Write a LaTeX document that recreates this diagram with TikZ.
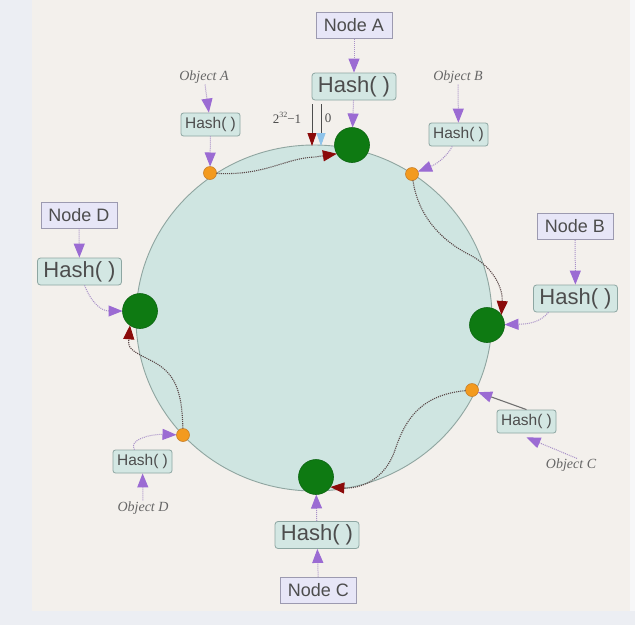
\documentclass[tikz,border=0pt]{standalone}
\usepackage{fontspec}
\setmainfont{Liberation Sans}
\newfontfamily\serifface{Liberation Serif}
\usetikzlibrary{arrows.meta}
\definecolor{bgout}{HTML}{ECEEF3}
\definecolor{bgin}{HTML}{F3F0EC}
\definecolor{bgstrip}{HTML}{F7F7F8}
\definecolor{ringfill}{HTML}{CFE5E1}
\definecolor{ringdraw}{HTML}{8FA5A0}
\definecolor{greenc}{HTML}{0E7A12}
\definecolor{greendraw}{HTML}{0B6410}
\definecolor{orangec}{HTML}{F39A1E}
\definecolor{orangedraw}{HTML}{C8802A}
\definecolor{nodefill}{HTML}{E7E6F7}
\definecolor{nodedraw}{HTML}{9C9AB0}
\definecolor{hashfill}{HTML}{D3E7E3}
\definecolor{hashdraw}{HTML}{8DA6A2}
\definecolor{textc}{HTML}{4D4D4D}
\definecolor{objc}{HTML}{666666}
\definecolor{purp}{HTML}{9B6BD3}
\definecolor{purpline}{HTML}{A890C8}
\definecolor{darkredc}{HTML}{8B0A0A}
\definecolor{curveline}{HTML}{5A4848}
\definecolor{bluetip}{HTML}{8EC3EA}
\begin{document}
\begin{tikzpicture}[x=1pt,y=-1pt,
  nodebox/.style={draw=nodedraw, fill=nodefill, line width=0.8pt, minimum width=76pt, minimum height=26pt, inner sep=0pt, font=\fontsize{18}{20}\selectfont, text=textc},
  hashbig/.style={draw=hashdraw, fill=hashfill, rounded corners=3pt, line width=0.8pt, minimum width=84pt, minimum height=27pt, inner sep=0pt, font=\fontsize{22}{24}\selectfont, text=textc},
  hashsmall/.style={draw=hashdraw, fill=hashfill, rounded corners=2.5pt, line width=0.8pt, minimum width=59pt, minimum height=23pt, inner sep=0pt, font=\fontsize{15.5}{17}\selectfont, text=textc},
  objlbl/.style={font=\serifface\itshape\fontsize{14}{16}\selectfont, text=objc, inner sep=1pt},
  greendot/.style={circle, fill=greenc, draw=greendraw, line width=0.6pt, minimum size=35pt, inner sep=0pt, outer sep=0pt},
  odot/.style={circle, fill=orangec, draw=orangedraw, line width=0.6pt, minimum size=13pt, inner sep=0pt, outer sep=0pt},
  parrow/.style={purpline, densely dotted, line width=1pt, -{Triangle[length=14pt,width=11pt,color=purp]}},
  rarrow/.style={curveline, densely dotted, line width=1.1pt, -{Triangle[length=14pt,width=11pt,color=darkredc]}}
]
\useasboundingbox (0,0) rectangle (635,625);
% background
\fill[bgout] (0,0) rectangle (635,625);
\fill[bgstrip] (630,0) rectangle (635,611);
\fill[bgin] (32,0) rectangle (630,611);
% ring
\draw[fill=ringfill, draw=ringdraw, line width=0.9pt] (314,318) ellipse [x radius=178, y radius=173];

% green server nodes
\node[greendot] (gA) at (352,145) {};
\node[greendot] (gB) at (487,325) {};
\node[greendot] (gC) at (316,477) {};
\node[greendot] (gD) at (140,311) {};
% orange object dots
\node[odot] (dA) at (210,173) {};
\node[odot] (dB) at (412,174) {};
\node[odot] (dC) at (472,390) {};
\node[odot] (dD) at (183,435) {};

% label boxes
\node[nodebox] (nA) at (354,25.5) {Node A};
\node[hashbig] (hA) at (354,86.5) {Hash( )};
\node[nodebox] (nD) at (79,215) {Node D};
\node[hashbig] (hD) at (79.5,271.5) {Hash( )};
\node[nodebox] (nB) at (575,226.5) {Node B};
\node[hashbig] (hB) at (575.5,298.5) {Hash( )};
\node[hashbig] (hC) at (317,535) {Hash( )};
\node[nodebox] (nC) at (318.5,590) {Node C};

\node[objlbl] (oA) at (204,77) {Object A};
\node[hashsmall] (hoA) at (210.5,124.5) {Hash( )};
\node[objlbl] (oB) at (458,77) {Object B};
\node[hashsmall] (hoB) at (458.5,134.5) {Hash( )};
\node[hashsmall] (hoC) at (526.5,421.5) {Hash( )};
\node[objlbl] (oC) at (571,465) {Object C};
\node[hashsmall] (hoD) at (142.5,461.5) {Hash( )};
\node[objlbl] (oD) at (143,508) {Object D};

% 2^32-1 and 0 markers
\node[font=\serifface\fontsize{13}{15}\selectfont, text=textc] (lmax) at (287,118) {2\raisebox{0.45em}{\fontsize{8}{9}\selectfont 32}−1};
\node[font=\serifface\fontsize{13}{15}\selectfont, text=textc] (lzero) at (328,118) {0};
\coordinate (m1s) at (312,104);
\coordinate (m1e) at (312,146);
\coordinate (m2s) at (321,104);
\coordinate (m2e) at (321,146);
\draw[textc, line width=0.8pt, -{Triangle[length=13pt,width=9pt,color=darkredc]}] (m1s) -- (m1e);
\draw[textc, line width=0.8pt, -{Triangle[length=13pt,width=9pt,color=bluetip]}] (m2s) -- (m2e);

% purple hash arrows
\draw[parrow] (nA) -- (hA);
\draw[parrow] (hA) -- (gA);
\draw[parrow] (oA) -- (hoA);
\draw[parrow] (hoA) -- (dA);
\draw[parrow] (oB) -- (hoB);
\draw[parrow] (hoB) .. controls (445,160) and (432,166) .. (dB);
\draw[parrow] (nD) -- (hD);
\draw[parrow] (hD) .. controls (90,300) and (100,311) .. (gD);
\draw[parrow] (nB) -- (hB);
\draw[parrow] ([xshift=-27pt]hB.south) .. controls (540,322) and (530,324) .. (gB);
\draw[parrow] ([xshift=6pt,yshift=-1pt]oC.north) -- ([yshift=-4pt]hoC.south);
\draw[line width=1.1pt, draw=textc!80, -{Triangle[length=14pt,width=11pt,color=purp]}] (hoC.north) -- (dC);
\draw[parrow] (oD) -- (hoD);
\draw[parrow] (hoD) .. controls (128,440) and (150,434) .. (dD);
\draw[parrow] (nC) -- (hC);
\draw[parrow] (hC) -- (gC);

% clockwise assignment curves
\draw[rarrow] (dA) .. controls (265,176) and (285,158) .. (315,157) -- (gA.210);
\draw[rarrow] (dB) .. controls (418,215) and (440,240) .. (470,255) .. controls (495,268) and (503,290) .. (gB.35);
\draw[rarrow] (dC) .. controls (420,395) and (405,420) .. (395,450) .. controls (385,480) and (360,489) .. (gC.-35);
\draw[rarrow] (dD) .. controls (182,390) and (175,372) .. (150,360) .. controls (130,350) and (128,348) .. (gD.-125);
\end{tikzpicture}
\end{document}
